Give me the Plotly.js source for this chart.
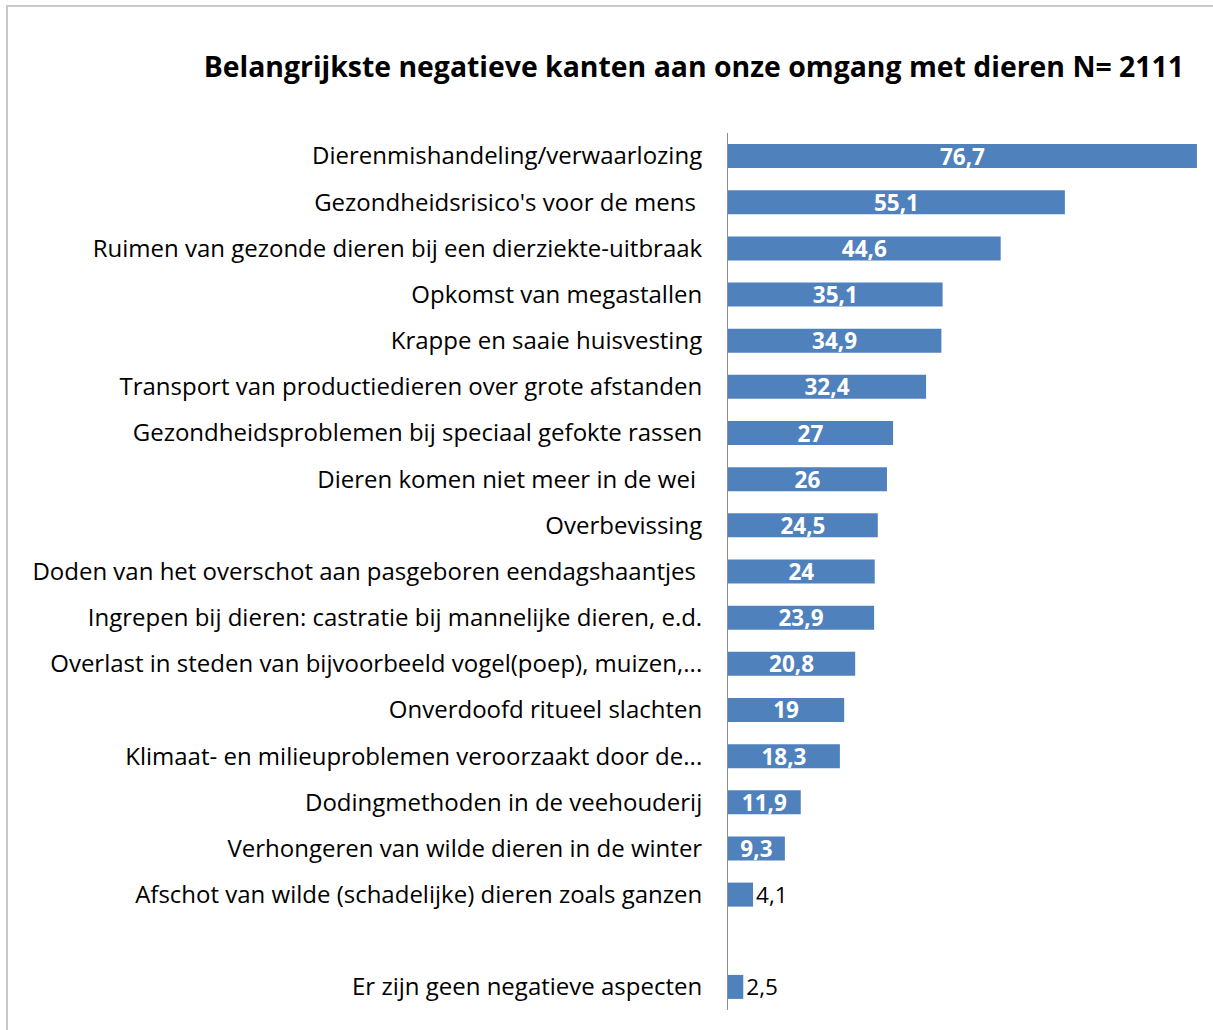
<!DOCTYPE html>
<html>
<head>
<meta charset="utf-8">
<script src="https://cdn.plot.ly/plotly-3.0.1.min.js"></script>
<style>
  html, body { margin: 0; padding: 0; background: #fff; }
  #chart { width: 1213px; height: 1030px; position: absolute; left: 0; top: 0; }
  #frame { position: absolute; left: 6px; top: 5px; width: 1300px; height: 1100px;
           border: 2px solid #c9c9c9; pointer-events: none; box-sizing: border-box; }
</style>
</head>
<body>
<div id="chart"></div>
<div id="frame"></div>
<script>
const categories = [
  "Dierenmishandeling/verwaarlozing",
  "Gezondheidsrisico's voor de mens\u00a0",
  "Ruimen van gezonde dieren bij een dierziekte-uitbraak",
  "Opkomst van megastallen",
  "Krappe en saaie huisvesting",
  "Transport van productiedieren over grote afstanden",
  "Gezondheidsproblemen bij speciaal gefokte rassen",
  "Dieren komen niet meer in de wei\u00a0",
  "Overbevissing",
  "Doden van het overschot aan pasgeboren eendagshaantjes\u00a0",
  "Ingrepen bij dieren: castratie bij mannelijke dieren, e.d.",
  "Overlast in steden van bijvoorbeeld vogel(poep), muizen,...",
  "Onverdoofd ritueel slachten",
  "Klimaat- en milieuproblemen veroorzaakt door de...",
  "Dodingmethoden in de veehouderij",
  "Verhongeren van wilde dieren in de winter",
  "Afschot van wilde (schadelijke) dieren zoals ganzen",
  " ",
  "Er zijn geen negatieve aspecten"
];
const values = [76.7, 55.1, 44.6, 35.1, 34.9, 32.4, 27, 26, 24.5, 24, 23.9, 20.8, 19, 18.3, 11.9, 9.3, 4.1, null, 2.5];
const valueLabels = ["76,7", "55,1", "44,6", "35,1", "34,9", "32,4", "27", "26", "24,5", "24", "23,9", "20,8", "19", "18,3", "11,9", "9,3", "4,1", "", "2,5"];
const chartTitle = "Belangrijkste negatieve kanten aan onze omgang met dieren N= 2111";

const FONT = "'Open Sans', sans-serif";
const insideThreshold = 8;
const isOutside = values.map(v => v !== null && v < insideThreshold);
const positions = isOutside.map(o => o ? "outside" : "inside");
const textColors = isOutside.map(o => o ? "#000000" : "#ffffff");
const textWeights = isOutside.map(o => o ? 400 : 700);

const trace = {
  type: "bar",
  orientation: "h",
  y: categories,
  x: values,
  text: valueLabels,
  textposition: positions,
  insidetextanchor: "middle",
  textangle: 0,
  cliponaxis: false,
  constraintext: "none",
  textfont: { family: FONT, size: 22.5, color: textColors, weight: textWeights },
  marker: { color: "#4f81bd" },
  hoverinfo: "none"
};

const layout = {
  width: 1213,
  height: 1030,
  paper_bgcolor: "#ffffff",
  plot_bgcolor: "#ffffff",
  margin: { l: 728, r: 13, t: 133, b: 20 },
  bargap: 0.48,
  showlegend: false,
  title: {
    text: "<b>" + chartTitle + "</b>",
    font: { family: FONT, size: 28.4, color: "#000000" },
    xref: "container", x: 0.572, xanchor: "center",
    yref: "container", y: 1 - 67 / 1030, yanchor: "middle"
  },
  xaxis: {
    range: [0, 77.2],
    visible: false,
    showgrid: false,
    zeroline: false
  },
  yaxis: {
    type: "category",
    categoryorder: "array",
    categoryarray: categories,
    autorange: "reversed",
    showline: true,
    linecolor: "#8c8c8c",
    linewidth: 1,
    ticks: "",
    showgrid: false,
    ticklabelstandoff: 20,
    tickfont: { family: FONT, size: 24, color: "#000000" }
  }
};

Plotly.newPlot("chart", [trace], layout, { displayModeBar: false, staticPlot: true });
</script>
</body>
</html>
